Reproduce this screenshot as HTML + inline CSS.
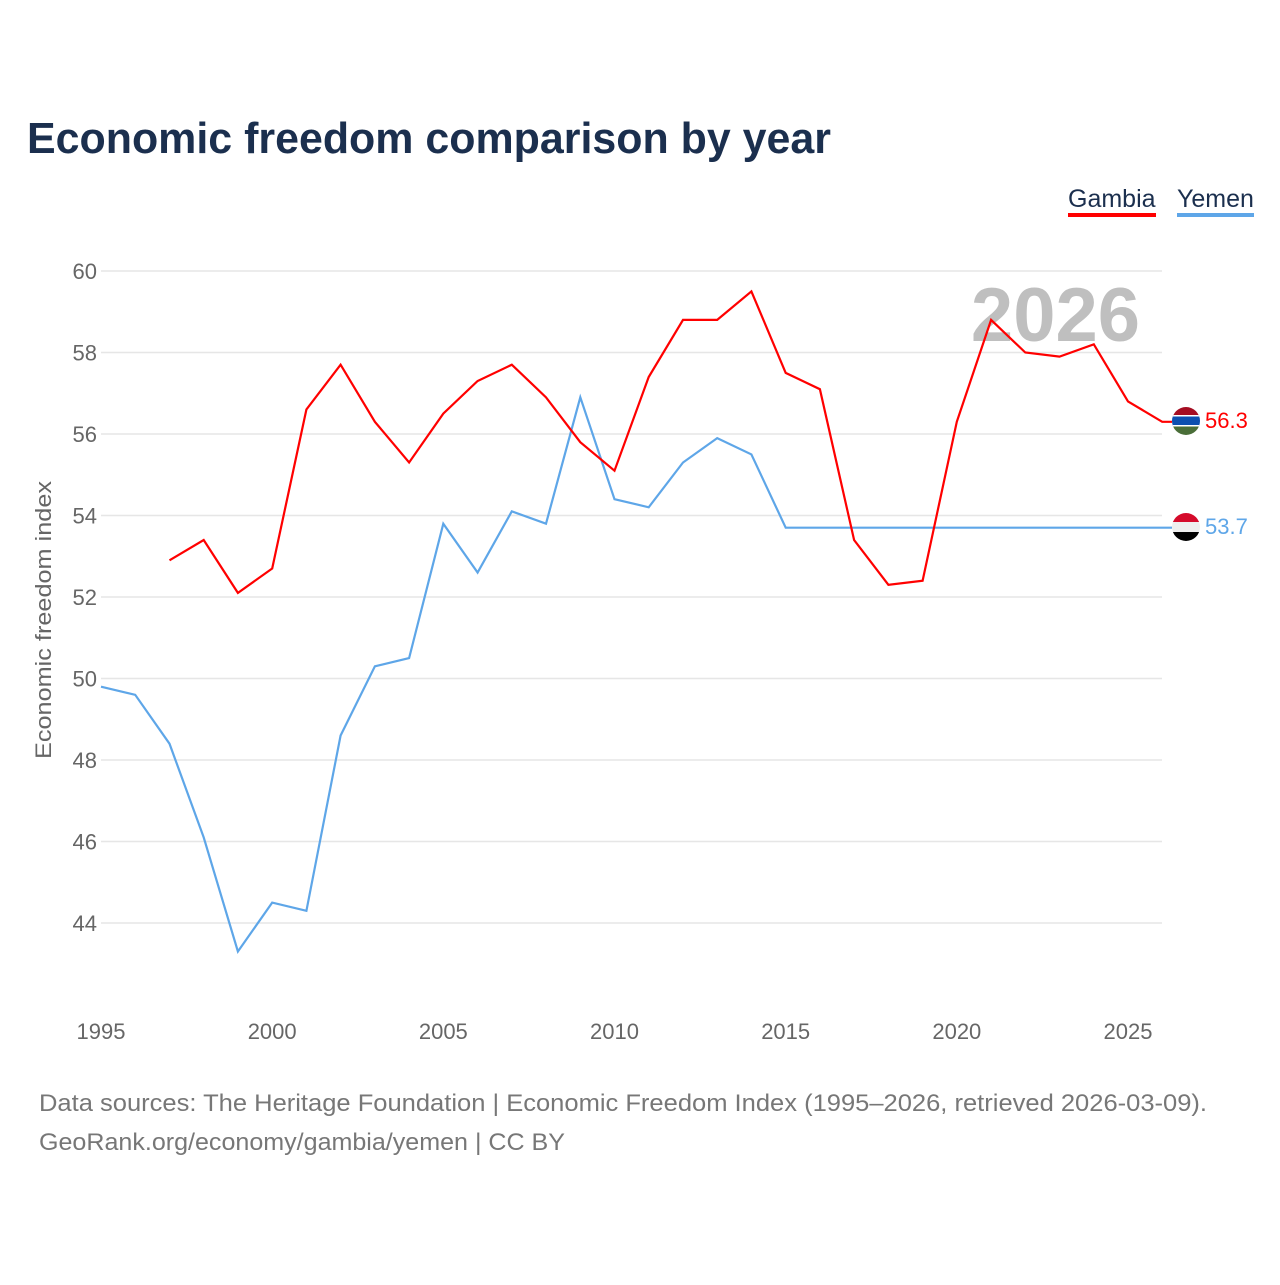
<!DOCTYPE html>
<html><head><meta charset="utf-8"><style>
body{margin:0;background:#fff;width:1280px;height:1280px;overflow:hidden;font-family:"Liberation Sans",sans-serif}
</style></head><body>
<svg id="chart" width="1280" height="1280" xmlns="http://www.w3.org/2000/svg" font-family="Liberation Sans, sans-serif">
<text x="27" y="153" font-size="44" font-weight="bold" fill="#1b2f4e" textLength="804" lengthAdjust="spacingAndGlyphs">Economic freedom comparison by year</text>
<g><text x="1068" y="207" font-size="25" fill="#1b2f4e">Gambia</text><rect x="1068" y="213" width="88" height="4" fill="#ff0000"/></g>
<g><text x="1177" y="207" font-size="25" fill="#1b2f4e">Yemen</text><rect x="1177" y="213" width="77" height="4" fill="#5ea6e8"/></g>
<text transform="translate(51,620) rotate(-90)" text-anchor="middle" font-size="22" fill="#666" textLength="278" lengthAdjust="spacingAndGlyphs">Economic freedom index</text>
<text x="1140" y="341" text-anchor="end" font-size="76" font-weight="bold" fill="#bfbfbf">2026</text>
<g id="grid"></g><g id="xt"></g><g id="lines"></g>
<g>
<clipPath id="cg"><circle cx="1186" cy="421" r="14"/></clipPath>
<g clip-path="url(#cg)"><rect x="1170" y="405" width="32" height="11" fill="#a50d22"/><rect x="1170" y="416" width="32" height="10" fill="#0c4fb0"/><rect x="1170" y="415" width="32" height="1.5" fill="#fff"/><rect x="1170" y="425" width="32" height="1.5" fill="#fff"/><rect x="1170" y="426.5" width="32" height="10" fill="#4a6e38"/></g></g>
<text x="1205" y="428" font-size="22" fill="#ff0000">56.3</text>
<g>
<clipPath id="cy"><circle cx="1186" cy="527" r="14"/></clipPath>
<g clip-path="url(#cy)"><rect x="1170" y="511" width="32" height="11" fill="#d50b2b"/><rect x="1170" y="522" width="32" height="10" fill="#eee"/><rect x="1170" y="532" width="32" height="11" fill="#000"/></g></g>
<text x="1205" y="534" font-size="22" fill="#5ea6e8">53.7</text>
<text x="39" y="1111" font-size="24" fill="#777" textLength="1168" lengthAdjust="spacingAndGlyphs">Data sources: The Heritage Foundation | Economic Freedom Index (1995–2026, retrieved 2026-03-09).</text>
<text x="39" y="1150" font-size="24" fill="#777" textLength="526" lengthAdjust="spacingAndGlyphs">GeoRank.org/economy/gambia/yemen | CC BY</text>
</svg>
<script>
const gambiaYears=[1997,1998,1999,2000,2001,2002,2003,2004,2005,2006,2007,2008,2009,2010,2011,2012,2013,2014,2015,2016,2017,2018,2019,2020,2021,2022,2023,2024,2025,2026];
const gambiaValues=[52.9,53.4,52.1,52.7,56.6,57.7,56.3,55.3,56.5,57.3,57.7,56.9,55.8,55.1,57.4,58.8,58.8,59.5,57.5,57.1,53.4,52.3,52.4,56.3,58.8,58.0,57.9,58.2,56.8,56.3];
const yemenYears=[1995,1996,1997,1998,1999,2000,2001,2002,2003,2004,2005,2006,2007,2008,2009,2010,2011,2012,2013,2014,2015,2016,2017,2018,2019,2020,2021,2022,2023,2024,2025,2026];
const yemenValues=[49.8,49.6,48.4,46.1,43.3,44.5,44.3,48.6,50.3,50.5,53.8,52.6,54.1,53.8,56.9,54.4,54.2,55.3,55.9,55.5,53.7,53.7,53.7,53.7,53.7,53.7,53.7,53.7,53.7,53.7,53.7,53.7];
const yTicks=[44,46,48,50,52,54,56,58,60];
const xTicks=[1995,2000,2005,2010,2015,2020,2025];
const NS="http://www.w3.org/2000/svg";
const X=y=>101+(y-1995)*(1027/30);
const Y=v=>271+(60-v)*(652/16);
const grid=document.getElementById('grid'),xt=document.getElementById('xt'),lines=document.getElementById('lines');
yTicks.forEach(t=>{
 const l=document.createElementNS(NS,'line');
 
 
 l.setAttribute('x1',101);l.setAttribute('x2',1162);l.setAttribute('y1',Y(t));l.setAttribute('y2',Y(t));
 l.setAttribute('stroke','#e6e6e6');l.setAttribute('stroke-width','1.5');grid.appendChild(l);
 const tx=document.createElementNS(NS,'text');
 
 
 tx.setAttribute('x',97);tx.setAttribute('y',Y(t)+8);tx.setAttribute('text-anchor','end');
 tx.setAttribute('font-size','22');tx.setAttribute('fill','#666');tx.textContent=t;grid.appendChild(tx);
});
xTicks.forEach(t=>{
 const tx=document.createElementNS(NS,'text');
 
 
 tx.setAttribute('x',X(t));tx.setAttribute('y',1039);tx.setAttribute('text-anchor','middle');
 tx.setAttribute('font-size','22');tx.setAttribute('fill','#666');tx.textContent=t;xt.appendChild(tx);
});
function draw(years,vals,color,name){
 let d=years.map((y,i)=>(i?'L':'M')+X(y).toFixed(1)+','+Y(vals[i]).toFixed(1)).join(' ');
 d+=' L1172,'+Y(vals[vals.length-1]).toFixed(1);
 const p=document.createElementNS(NS,'path');
 
 
 p.setAttribute('d',d);p.setAttribute('fill','none');p.setAttribute('stroke',color);p.setAttribute('stroke-width','2.2');
 lines.appendChild(p);
}
draw(yemenYears,yemenValues,'#5ea6e8','yemen-line');
draw(gambiaYears,gambiaValues,'#ff0000','gambia-line');
</script>
</body></html>
